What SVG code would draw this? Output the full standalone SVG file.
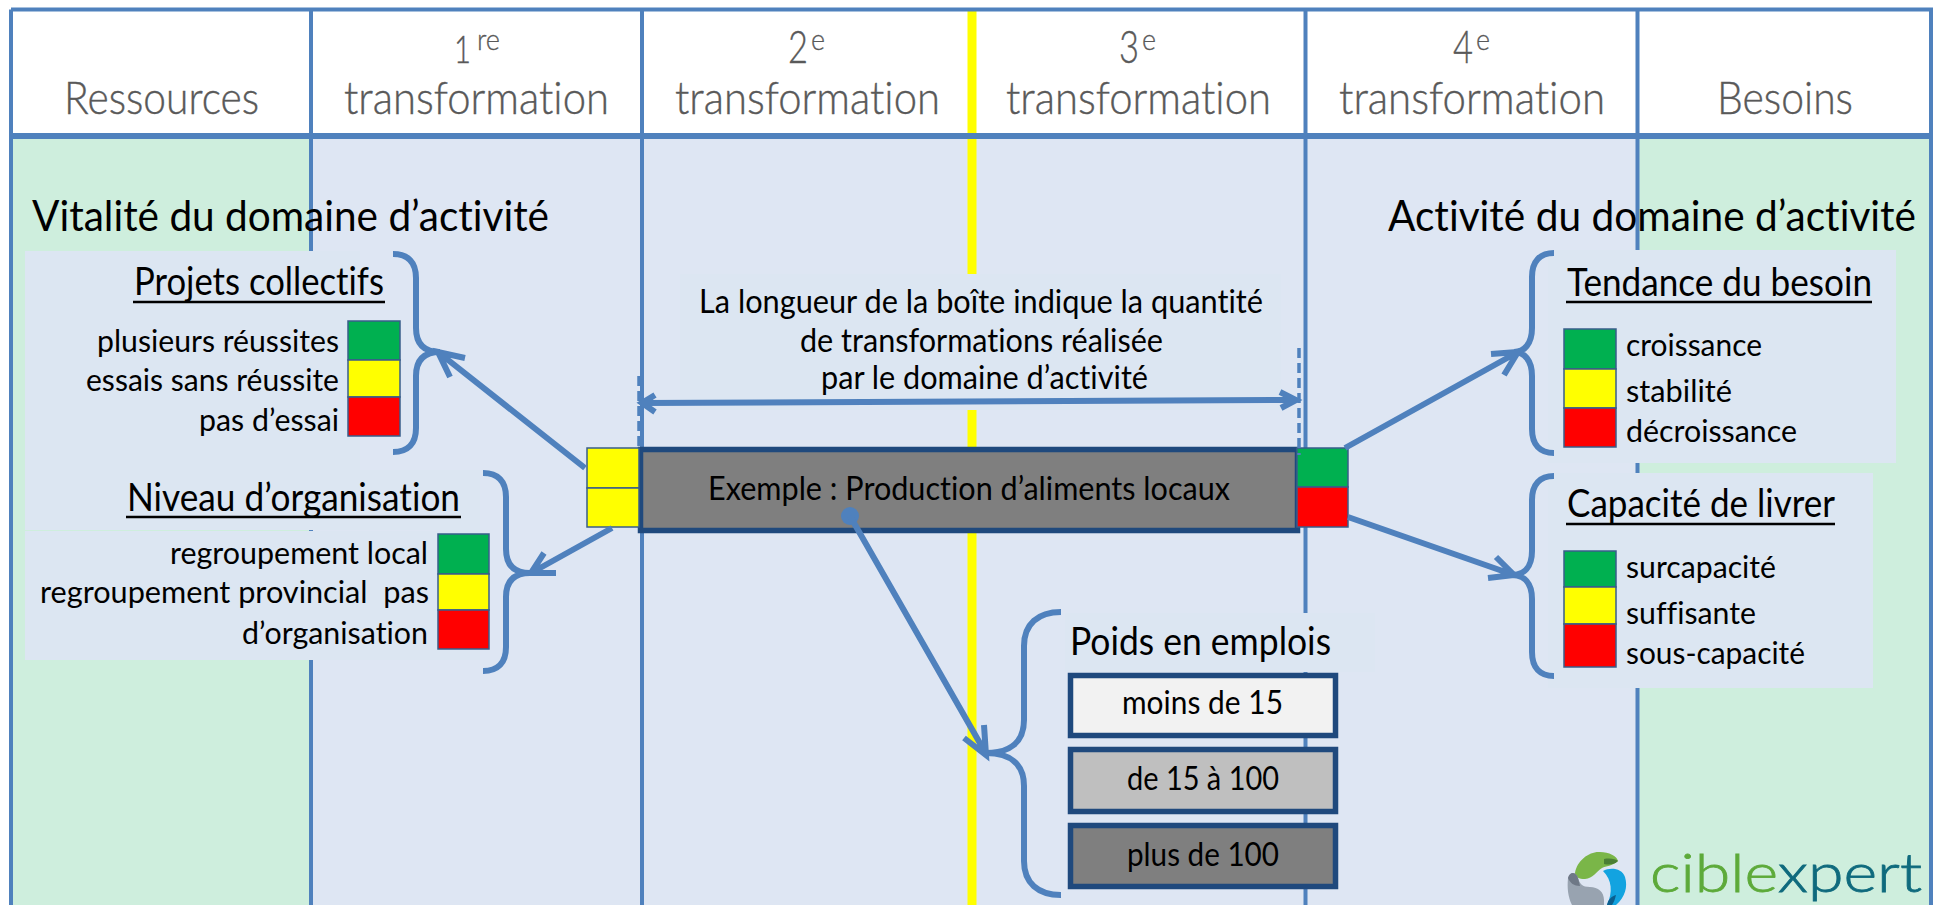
<svg xmlns="http://www.w3.org/2000/svg" width="1934" height="905" viewBox="0 0 1934 905">
<style>
text{font-family:Lato,"Open Sans","Liberation Sans",sans-serif;fill:#000;font-weight:400;font-variant-ligatures:none}
.h{font-size:46px;fill:#595959;font-weight:300;stroke:#595959;stroke-width:.4}
.hs{font-size:29px;fill:#595959;font-weight:300;stroke:#595959;stroke-width:.3}
.t{font-size:42px}
.s{font-size:38px}
.l{font-size:31px}
.m{font-size:33px}
.col{stroke:#4F81BD;stroke-width:4;fill:none}
.rule{stroke:#000;stroke-width:2.500}
.sq{stroke:#385D8A;stroke-width:1.500}
.g{fill:#00B050}.y{fill:#FFFF00}.r{fill:#FF0000}
.cn{stroke:#4F81BD;stroke-width:6;fill:none}
.pan{fill:#DCE6F2}
.box{stroke:#1F497D;stroke-width:5.500}
</style>
<rect width="1934" height="905" fill="#FFFFFF"/>
<g id="background">
<rect x="11" y="136" width="300" height="769" fill="#CEEEDD"/>
<rect x="311" y="136" width="1326" height="769" fill="#DEE6F3"/>
<rect x="1637" y="136" width="293" height="769" fill="#CEEEDD"/>
<rect x="967.500" y="8" width="9" height="897" fill="#FFFF00"/>
<path class="col" d="M11 9.500H1931V905M11 9.500V905M311 8V905M642 8V905M1305.500 8V905M1637.500 8V905"/>
<rect x="11" y="133" width="1920" height="6" fill="#4F81BD"/>
</g>
<g id="panels">
<rect class="pan" x="25" y="251" width="335" height="279"/>
<rect class="pan" x="25" y="470" width="455" height="60"/>
<rect class="pan" x="25" y="531" width="455" height="129"/>
<rect class="pan" x="680" y="274" width="601" height="136"/>
<rect class="pan" x="1548" y="250" width="348" height="213"/>
<rect class="pan" x="1548" y="473" width="325" height="215"/>
<rect class="pan" x="1065" y="613" width="310" height="59"/>
</g>
<g id="headers">
<text class="h" x="64" y="114" textLength="195" lengthAdjust="spacingAndGlyphs">Ressources</text>
<text class="h" x="344" y="114" textLength="265" lengthAdjust="spacingAndGlyphs">transformation</text>
<text class="h" x="675" y="114" textLength="265" lengthAdjust="spacingAndGlyphs">transformation</text>
<text class="h" x="1006" y="114" textLength="265" lengthAdjust="spacingAndGlyphs">transformation</text>
<text class="h" x="1339" y="114" textLength="266" lengthAdjust="spacingAndGlyphs">transformation</text>
<text class="h" x="1717" y="114" textLength="136" lengthAdjust="spacingAndGlyphs">Besoins</text>
<text class="h" style="font-size:38px" x="454" y="63" textLength="17" lengthAdjust="spacingAndGlyphs">1</text>
<text class="hs" x="477" y="50" textLength="23" lengthAdjust="spacingAndGlyphs">re</text>
<text class="h" x="788" y="63" textLength="20" lengthAdjust="spacingAndGlyphs">2</text>
<text class="hs" x="811" y="50" textLength="14" lengthAdjust="spacingAndGlyphs">e</text>
<text class="h" x="1119" y="63" textLength="20" lengthAdjust="spacingAndGlyphs">3</text>
<text class="hs" x="1142" y="50" textLength="14" lengthAdjust="spacingAndGlyphs">e</text>
<text class="h" x="1453" y="63" textLength="20" lengthAdjust="spacingAndGlyphs">4</text>
<text class="hs" x="1476" y="50" textLength="14" lengthAdjust="spacingAndGlyphs">e</text>
</g>
<g id="titles">
<text class="t" x="32" y="231" textLength="517" lengthAdjust="spacingAndGlyphs">Vitalité du domaine d’activité</text>
<text class="t" x="1388" y="231" textLength="528" lengthAdjust="spacingAndGlyphs">Activité du domaine d’activité</text>
</g>
<g id="projets-collectifs">
<text class="s" x="134" y="295" textLength="250" lengthAdjust="spacingAndGlyphs">Projets collectifs</text>
<line class="rule" x1="133" y1="302" x2="385" y2="302"/>
<rect class="sq g" x="348" y="321" width="52" height="39"/><rect class="sq y" x="348" y="360" width="52" height="37"/><rect class="sq r" x="348" y="397" width="52" height="39"/>
<text class="l" x="97" y="352" textLength="242" lengthAdjust="spacingAndGlyphs">plusieurs réussites</text>
<text class="l" x="86" y="391" textLength="253" lengthAdjust="spacingAndGlyphs">essais sans réussite</text>
<text class="l" x="199" y="431" textLength="140" lengthAdjust="spacingAndGlyphs">pas d’essai</text>
</g>
<g id="niveau-organisation">
<text class="s" x="127" y="511" textLength="333" lengthAdjust="spacingAndGlyphs">Niveau d’organisation</text>
<line class="rule" x1="126" y1="517" x2="461" y2="517"/>
<rect class="sq g" x="438" y="534" width="51" height="40"/><rect class="sq y" x="438" y="574" width="51" height="36"/><rect class="sq r" x="438" y="610" width="51" height="39"/>
<text class="l" x="170" y="564" textLength="258" lengthAdjust="spacingAndGlyphs">regroupement local</text>
<text class="l" x="40" y="603" textLength="389" lengthAdjust="spacingAndGlyphs" xml:space="preserve">regroupement provincial  pas</text>
<text class="l" x="242" y="644" textLength="186" lengthAdjust="spacingAndGlyphs">d’organisation</text>
</g>
<g id="legend-note">
<text class="m" x="699" y="313" textLength="564" lengthAdjust="spacingAndGlyphs">La longueur de la boîte indique la quantité</text>
<text class="m" x="800" y="352" textLength="363" lengthAdjust="spacingAndGlyphs">de transformations réalisée</text>
<text class="m" x="821" y="389" textLength="327" lengthAdjust="spacingAndGlyphs">par le domaine d’activité</text>
</g>
<g id="tendance-besoin">
<text class="s" x="1567" y="296" textLength="305" lengthAdjust="spacingAndGlyphs">Tendance du besoin</text>
<line class="rule" x1="1566" y1="302" x2="1872" y2="302"/>
<rect class="sq g" x="1564" y="329" width="52" height="40"/><rect class="sq y" x="1564" y="369" width="52" height="39"/><rect class="sq r" x="1564" y="408" width="52" height="39"/>
<text class="l" x="1626" y="356" textLength="136" lengthAdjust="spacingAndGlyphs">croissance</text>
<text class="l" x="1626" y="402" textLength="106" lengthAdjust="spacingAndGlyphs">stabilité</text>
<text class="l" x="1626" y="442" textLength="171" lengthAdjust="spacingAndGlyphs">décroissance</text>
</g>
<g id="capacite-livrer">
<text class="s" x="1567" y="517" textLength="268" lengthAdjust="spacingAndGlyphs">Capacité de livrer</text>
<line class="rule" x1="1566" y1="524" x2="1835" y2="524"/>
<rect class="sq g" x="1564" y="551" width="52" height="36"/><rect class="sq y" x="1564" y="587" width="52" height="37"/><rect class="sq r" x="1564" y="624" width="52" height="43"/>
<text class="l" x="1626" y="578" textLength="150" lengthAdjust="spacingAndGlyphs">surcapacité</text>
<text class="l" x="1626" y="624" textLength="130" lengthAdjust="spacingAndGlyphs">suffisante</text>
<text class="l" x="1626" y="664" textLength="179" lengthAdjust="spacingAndGlyphs">sous-capacité</text>
</g>
<g id="domain-box">
<rect x="640.500" y="449.500" width="657" height="81" fill="#7F7F7F" class="box"/>
<rect class="sq y" x="587" y="448" width="52" height="40"/><rect class="sq y" x="587" y="488" width="52" height="39"/>
<rect class="sq g" x="1297" y="448" width="51" height="39"/><rect class="sq r" x="1297" y="487" width="51" height="40"/>
<text class="m" x="708" y="500" textLength="522" lengthAdjust="spacingAndGlyphs">Exemple : Production d’aliments locaux</text>
</g>
<g id="poids-emplois">
<text class="s" x="1070" y="655" textLength="261" lengthAdjust="spacingAndGlyphs">Poids en emplois</text>
<rect class="box" x="1070.500" y="675.500" width="265" height="60" fill="#F2F2F2"/>
<rect class="box" x="1070.500" y="749.500" width="265" height="62" fill="#BFBFBF"/>
<rect class="box" x="1070.500" y="825.500" width="265" height="61" fill="#7F7F7F"/>
<text class="m" x="1122" y="714" textLength="161" lengthAdjust="spacingAndGlyphs">moins de 15</text>
<text class="m" x="1127" y="790" textLength="152" lengthAdjust="spacingAndGlyphs">de 15 à 100</text>
<text class="m" x="1127" y="866" textLength="152" lengthAdjust="spacingAndGlyphs">plus de 100</text>
</g>
<g id="connectors">
<path class="cn" d="M393 254C408 254 416 262 416 278V328C416 344 424 352 440 352C424 352 416 360 416 376V428C416 444 408 452 393 452"/>
<path class="cn" d="M483 473C498 473 506 481 506 497V549C506 565 514 573 530 573C514 573 506 581 506 597V647C506 663 498 671 483 671"/>
<path class="cn" d="M1554 253C1540 253 1532 261 1532 277V328C1532 344 1524 352 1514 352C1524 352 1532 360 1532 376V429C1532 445 1540 453 1554 453"/>
<path class="cn" d="M1554 476C1540 476 1532 484 1532 500V551C1532 567 1524 575 1512 575C1524 575 1532 583 1532 599V652C1532 668 1540 676 1554 676"/>
<path class="cn" d="M1061 612C1038 612 1024 624 1024 646V720C1024 742 1010 753 986 753C1010 753 1024 764 1024 786V861C1024 883 1038 895 1061 895"/>
<path class="cn" d="M585 468L438 352M465 358L438 352L450 377"/>
<path class="cn" d="M612 528L531 573M556 573L531 573L544 553"/>
<path class="cn" d="M1345 448L1518 352M1491 354L1518 352L1504 375"/>
<path class="cn" d="M1348 517L1514 575M1488 578L1514 575L1496 557"/>
<path class="cn" d="M642 403L1296 400M655 395L642 403L655 412M1280 392L1296 400L1281 408"/>
<ellipse cx="850" cy="516" rx="9" ry="9" fill="#4F81BD"/>
<path class="cn" d="M850 516L985 752M984 725L986 755L964 738"/>
<path d="M639 376V447M1299 348V455" stroke="#4F81BD" stroke-width="3.500" stroke-dasharray="10 5" fill="none"/>
</g>
<g id="logo">
<path d="M1575 873C1577 860 1590 851 1600 852C1609 852 1617 856 1618 861C1612 866 1606 866 1602 868C1596 872 1593 878 1585 879C1579 879 1575 877 1575 873Z" fill="#7AB648"/>
<path d="M1604 859C1610 858 1616 859 1618 861C1614 865 1608 865 1604 864Z" fill="#4A7F35"/>
<path d="M1603 871C1610 867 1622 868 1625 877C1628 887 1625 897 1616 905H1607C1613 892 1612 880 1603 871Z" fill="#12A3E0"/>
<path d="M1607 905C1608 899 1612 896 1616 895C1615 899 1614 902 1612 905Z" fill="#0B5E8E"/>
<path d="M1568 878C1570 871 1576 872 1578 878C1580 884 1582 887 1590 887C1598 887 1604 892 1604 900V905H1572C1568 897 1567 888 1568 878Z" fill="#98A3B0"/>
<path d="M1568 878C1570 871 1576 872 1578 878L1580 886C1574 886 1570 883 1568 878Z" fill="#6E7886"/>
<text x="1650" y="892" font-size="54" style="font-weight:300;fill:#5DAA3A;stroke:#5DAA3A;stroke-width:.8" textLength="272" lengthAdjust="spacingAndGlyphs">cible<tspan style="fill:#0F6A7D;stroke:#0F6A7D">xpert</tspan></text>
</g>
</svg>
